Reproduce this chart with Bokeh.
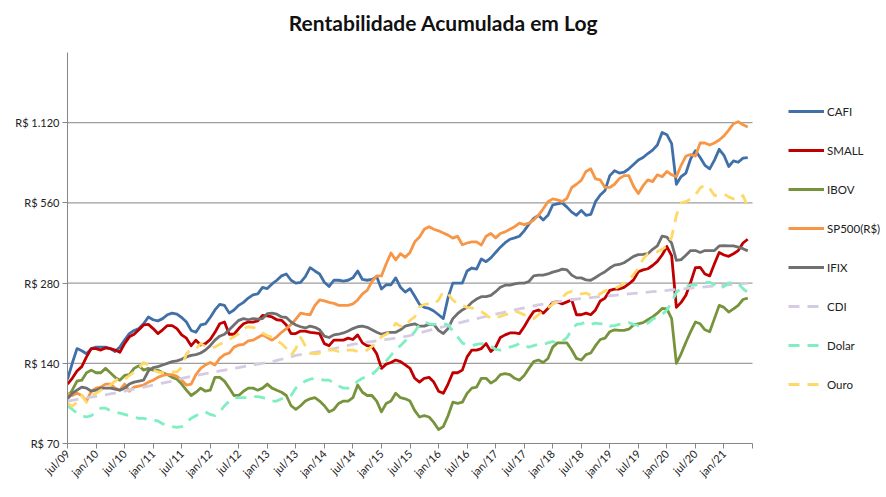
import math
from bokeh.plotting import figure
from bokeh.models import Range1d, FixedTicker, Legend, LegendItem, Label
from bokeh.embed import file_html
from bokeh.resources import INLINE

# ---------------- data ----------------
tick_labels = ["jul/09", "jan/10", "jul/10", "jan/11", "jul/11", "jan/12", "jul/12", "jan/13",
               "jul/13", "jan/14", "jul/14", "jan/15", "jul/15", "jan/16", "jul/16", "jan/17",
               "jul/17", "jan/18", "jul/18", "jan/19", "jul/19", "jan/20", "jul/20", "jan/21"]
y_ticks = [70, 140, 280, 560, 1120]
y_tick_labels = ["R$ 70", "R$ 140", "R$ 280", "R$ 560", "R$ 1.120"]

series_names = ["CAFI", "SMALL", "IBOV", "SP500(R$)", "IFIX", "CDI", "Dolar", "Ouro"]

cafi = [122, 140, 159, 156, 152, 159, 161, 161, 161, 159, 155, 161,
        171, 181, 186, 189, 197, 209, 204, 202, 206, 213, 216, 214,
        208, 200, 186, 183, 195, 197, 208, 222, 233, 231, 216, 222,
        231, 237, 246, 253, 255, 270, 267, 278, 287, 298, 303, 287,
        280, 282, 296, 320, 311, 303, 282, 272, 287, 287, 285, 287,
        293, 311, 289, 287, 289, 296, 266, 276, 276, 293, 270, 259,
        267, 250, 233, 227, 225, 220, 213, 206, 247, 280, 280, 280,
        311, 319, 316, 345, 337, 348, 365, 382, 397, 409, 414, 420,
        440, 466, 490, 503, 483, 503, 550, 555, 560, 540, 517, 503,
        525, 503, 507, 566, 600, 624, 709, 740, 725, 730, 752, 781,
        811, 829, 858, 884, 924, 1030, 1010, 935, 658, 703, 725, 820,
        880, 829, 775, 752, 811, 890, 845, 767, 805, 796, 825, 829]

small = [117, 123, 131, 136, 148, 159, 159, 157, 160, 159, 157, 154,
         166, 176, 180, 187, 195, 196, 189, 181, 187, 194, 194, 189,
         179, 174, 163, 171, 164, 166, 172, 183, 197, 200, 180, 180,
         189, 197, 200, 200, 202, 212, 211, 209, 204, 203, 195, 181,
         181, 185, 185, 183, 182, 181, 166, 163, 171, 171, 171, 174,
         172, 179, 167, 163, 162, 152, 134, 139, 141, 144, 142, 138,
         134, 123, 119, 123, 124, 119, 110, 108, 117, 129, 129, 132,
         148, 157, 157, 159, 166, 155, 161, 175, 179, 182, 182, 181,
         192, 206, 219, 222, 216, 225, 237, 238, 234, 238, 242, 213,
         213, 216, 213, 222, 240, 246, 263, 266, 266, 270, 278, 288,
         309, 314, 317, 326, 338, 357, 384, 355, 227, 237, 252, 282,
         320, 321, 303, 298, 331, 365, 357, 353, 361, 371, 396, 409]

ibov = [104, 111, 120, 121, 129, 132, 129, 129, 134, 129, 124, 121,
        126, 127, 134, 137, 132, 134, 132, 132, 129, 127, 124, 122,
        117, 111, 106, 109, 113, 110, 111, 124, 124, 120, 113, 106,
        106, 110, 113, 113, 111, 113, 117, 113, 111, 109, 106, 97,
        94, 97, 101, 103, 104, 101, 97, 92, 94, 99, 101, 101,
        104, 116, 109, 106, 106, 101, 92, 99, 101, 108, 104, 103,
        101, 93, 88, 89, 88, 84, 79, 81, 89, 100, 99, 100,
        108, 113, 114, 123, 123, 118, 121, 127, 128, 127, 123, 121,
        126, 134, 142, 144, 141, 146, 161, 167, 167, 167, 157, 146,
        144, 151, 153, 163, 172, 174, 184, 187, 186, 186, 188, 195,
        197, 199, 204, 209, 216, 225, 224, 206, 140, 152, 168, 184,
        200, 197, 187, 184, 206, 231, 227, 218, 224, 231, 243, 246]

sp500 = [108, 106, 108, 106, 101, 110, 113, 114, 117, 117, 113, 111,
         117, 110, 114, 115, 116, 119, 121, 124, 126, 127, 127, 125,
         121, 116, 117, 127, 134, 138, 141, 138, 146, 151, 153, 161,
         164, 165, 170, 171, 175, 179, 175, 171, 176, 183, 189, 196,
         205, 216, 214, 213, 231, 242, 240, 237, 235, 231, 231, 231,
         234, 242, 255, 263, 284, 298, 298, 331, 363, 342, 361, 350,
         365, 400, 417, 446, 456, 446, 440, 432, 424, 413, 420, 390,
         396, 400, 400, 389, 420, 430, 414, 430, 436, 446, 456, 470,
         464, 470, 483, 503, 532, 566, 580, 575, 566, 583, 640, 658,
         680, 735, 752, 689, 683, 640, 640, 658, 691, 709, 709, 646,
         607, 650, 683, 673, 714, 702, 735, 714, 703, 775, 839, 851,
         839, 940, 940, 924, 940, 965, 1000, 1050, 1110, 1130, 1100, 1080]

ifix = [103, 108, 111, 114, 113, 110, 111, 113, 113, 113, 112, 111,
        113, 117, 119, 120, 121, 131, 135, 136, 138, 140, 142, 143,
        145, 148, 150, 151, 153, 157, 163, 171, 177, 180, 187, 195,
        203, 206, 204, 206, 205, 206, 215, 216, 214, 209, 208, 200,
        195, 192, 190, 193, 191, 187, 177, 175, 179, 180, 182, 185,
        189, 192, 193, 191, 187, 183, 180, 182, 183, 183, 187, 193,
        195, 197, 193, 193, 196, 196, 186, 181, 189, 206, 215, 222,
        227, 237, 244, 249, 249, 252, 260, 270, 275, 275, 278, 280,
        280, 284, 298, 300, 300, 303, 308, 311, 316, 314, 300, 293,
        293, 288, 287, 294, 302, 309, 319, 327, 329, 334, 343, 353,
        358, 359, 361, 375, 386, 420, 417, 396, 341, 343, 356, 371,
        371, 365, 371, 371, 371, 386, 387, 386, 386, 382, 377, 370]

cdi = [101, 101.7, 102.4, 103.1, 103.8, 104.5, 105.2, 105.9, 106.6, 107.4, 108.2, 109,
       110, 111, 112, 113, 114, 115, 116, 117, 118, 119, 120, 121.5,
       123, 124, 125, 126, 127, 128, 129, 130, 131, 132, 133, 134,
       135, 136, 137, 138, 139, 140, 141, 142, 143.5, 145, 146.5, 148,
       150, 151, 152, 153, 154, 155, 156, 157.5, 159, 160.5, 162, 163.5,
       165, 166, 167, 168, 169, 170, 171, 172, 173, 174, 175, 176.5,
       178, 180, 182, 184, 186, 188, 190, 192, 194, 196, 198, 200,
       202, 204, 206, 208, 210, 212, 214, 216, 218, 220, 222, 224,
       226, 228, 230, 232, 233.5, 235, 236.5, 238, 239.5, 241, 242.5, 244,
       245, 246, 247, 248, 249, 250, 251, 252, 253, 254, 255, 256,
       257, 258, 259, 260, 261, 262, 263, 264, 265, 266, 267, 268,
       269, 270, 271, 272, 273, 274, 275, 276, 277, 278, 279, 280]

dolar = [97, 94, 91, 89, 88, 89, 92, 95, 95, 93, 92, 91,
         90, 89, 88, 87, 87, 86, 86, 85, 83, 82, 81, 80.5,
         81, 84, 87, 89, 91, 92, 90, 89, 92, 97, 101, 104,
         104, 104, 104, 105, 105, 104, 103, 101, 101, 103, 104, 106,
         113, 117, 120, 122, 123, 122, 121, 121, 118, 115, 113, 113,
         115, 120, 123, 125, 127, 132, 138, 143, 150, 158, 163, 170,
         176, 184, 196, 200, 197, 196, 196, 198, 195, 185, 176, 167,
         164, 163, 165, 166, 165, 162, 158, 157, 159, 161, 163, 166,
         163, 161, 163, 165, 165, 167, 169, 166, 169, 175, 187, 196,
         197, 200, 196, 198, 197, 198, 193, 194, 196, 197, 199, 196,
         194, 196, 198, 205, 209, 213, 222, 237, 259, 267, 272, 276,
         275, 278, 281, 282, 276, 267, 272, 280, 282, 279, 267, 258]

ouro = [99, 96.6, 100, 106, 100, 106, 108, 111, 113, 116, 120, 124,
        122, 126, 130, 134, 141, 138, 132, 130, 129, 129, 130, 130,
        135, 152, 158, 159, 166, 162, 160, 161, 165, 168, 172, 176,
        181, 189, 192, 191, 188, 182, 178, 175, 170, 166, 159, 150,
        159, 175, 163, 153, 152, 153, 155, 157, 157, 155, 155, 157,
        157, 155, 155, 157, 162, 168, 176, 180, 185, 198, 193, 192,
        203, 209, 228, 233, 234, 233, 242, 260, 255, 242, 234, 231,
        227, 226, 222, 219, 213, 206, 208, 210, 213, 215, 220, 217,
        213, 208, 206, 213, 222, 227, 233, 238, 247, 257, 261, 260,
        255, 257, 252, 250, 255, 262, 266, 267, 272, 280, 287, 302,
        318, 345, 361, 362, 367, 375, 386, 416, 503, 560, 566, 580,
        600, 637, 655, 635, 597, 598, 605, 590, 580, 575, 597, 540]

all_series = [cafi, small, ibov, sp500, ifix, cdi, dolar, ouro]

# ---------------- styles / layout ----------------
colors = ["#4170A8", "#C00000", "#77933C", "#F79646", "#707070", "#D5CCE4", "#7FEFC2", "#FFD966"]
dashes = ["solid", "solid", "solid", "solid", "solid", "11 8", "11 8", "11 8"]
FONT = "Lato"
GRID = "#868686"

N_MONTHS = 144
Y_MIN, Y_TOP_AXIS = 70, 2055      # extent of the value axis
PX_PER_MONTH = 685 / N_MONTHS
FRAME_W = 884 - 67 - 2
X_END = FRAME_W / PX_PER_MONTH
Y_END = 3221                     # frame extends to the top of the canvas (room for title)

months = list(range(len(cafi)))

p = figure(width=884, height=489, output_backend="svg", toolbar_location=None,
           y_axis_type="log", x_range=Range1d(0, X_END), y_range=Range1d(Y_MIN, Y_END),
           min_border_left=67, min_border_right=2, min_border_top=0, min_border_bottom=46,
           title=None)
p.outline_line_color = None
p.background_fill_color = "white"
p.border_fill_color = "white"
p.xgrid.grid_line_color = None
p.ygrid.grid_line_color = None

# horizontal gridlines limited to the plotting area
p.segment(x0=[0] * len(y_ticks), x1=[N_MONTHS] * len(y_ticks), y0=y_ticks, y1=y_ticks,
          line_color=GRID, line_width=1)

items = []
for name, vals, c, d in zip(series_names, all_series, colors, dashes):
    r = p.line(months, vals, line_color=c, line_width=2.8, line_dash=d, line_join="round")
    items.append(LegendItem(label=name, renderers=[r]))

# axes
p.yaxis.ticker = FixedTicker(ticks=y_ticks)
p.yaxis.major_label_overrides = {t: l for t, l in zip(y_ticks, y_tick_labels)}
p.yaxis.bounds = (Y_MIN, Y_TOP_AXIS)
p.xaxis.ticker = FixedTicker(ticks=list(range(0, N_MONTHS + 1, 6)))
xo = {i * 6: lab for i, lab in enumerate(tick_labels)}
xo[N_MONTHS] = ""
p.xaxis.major_label_overrides = xo
p.xaxis.major_label_orientation = math.pi / 4
p.xaxis.bounds = (0, N_MONTHS)

for ax in (p.xaxis[0], p.yaxis[0]):
    ax.axis_line_color = GRID
    ax.major_tick_line_color = GRID
    ax.minor_tick_line_color = None
    ax.major_tick_in = 0
    ax.major_tick_out = 5
    ax.major_label_text_font = FONT
    ax.major_label_text_font_size = "11px"
    ax.major_label_text_color = "#222222"
    ax.major_label_standoff = 3

legend = Legend(items=items, location=(721, 49), orientation="vertical",
                glyph_width=36, glyph_height=20, label_height=20, spacing=19,
                padding=0, margin=0, label_standoff=3,
                border_line_color=None, background_fill_alpha=0,
                label_text_font=FONT, label_text_font_size="11.5px", label_text_color="#222222")
p.add_layout(legend)

title = Label(x=(443 - 67) / PX_PER_MONTH, y=2663,
              text="Rentabilidade Acumulada em Log", text_align="center", text_baseline="middle",
              text_font=FONT, text_font_style="bold", text_font_size="21px", text_color="#111111")
p.add_layout(title)

open("out.html", "w").write(file_html(p, INLINE))
